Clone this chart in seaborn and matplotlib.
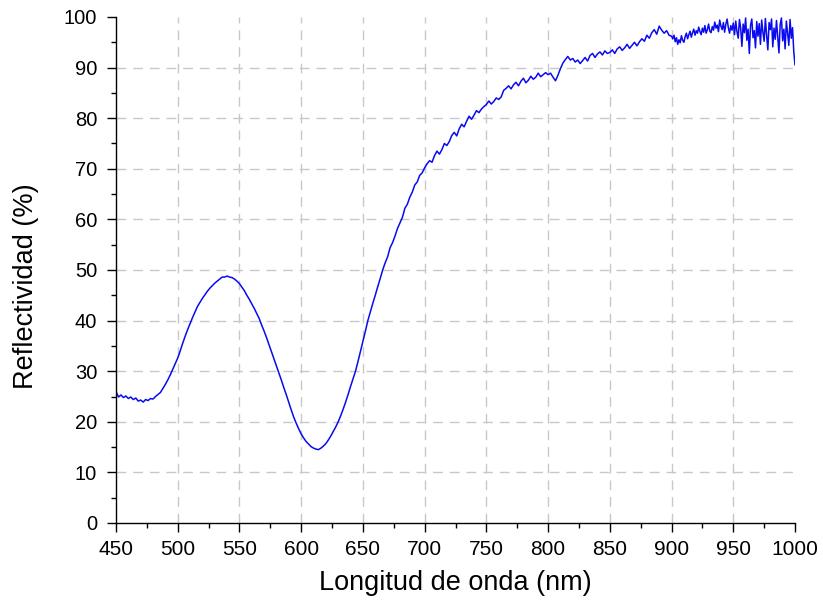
import numpy as np
import pandas as pd
import matplotlib
matplotlib.use("Agg")
import matplotlib.pyplot as plt
from matplotlib.ticker import MultipleLocator
import seaborn as sns

# Wavelength sampling (nm): 2 nm steps up to 898 nm, 1 nm steps in the noisy tail
wavelength = list(range(450, 900, 2)) + list(range(900, 1001, 1))

# Reflectivity (%), in 50 nm blocks
r_450 = [26.0, 24.9, 25.3, 24.8, 25.1, 24.6, 24.9, 24.4, 24.7, 24.1, 24.3, 23.9, 24.4,
         24.2, 24.6, 24.5, 25.0, 25.4, 25.8, 26.6, 27.4, 28.3, 29.3, 30.4, 31.5]
r_500 = [32.6, 34.0, 35.5, 36.9, 38.2, 39.4, 40.6, 41.7, 42.8, 43.6, 44.4, 45.1, 45.8,
         46.4, 46.9, 47.4, 47.8, 48.2, 48.6, 48.6, 48.8, 48.6, 48.5, 48.2, 47.8]
r_550 = [47.3, 46.6, 45.9, 45.0, 44.2, 43.3, 42.4, 41.4, 40.4, 39.1, 37.9, 36.6, 35.2,
         33.8, 32.4, 31.0, 29.6, 28.2, 26.7, 25.3, 23.8, 22.3, 20.9, 19.7, 18.6]
r_600 = [17.6, 16.8, 16.1, 15.6, 15.1, 14.8, 14.6, 14.5, 14.8, 15.2, 15.7, 16.4, 17.2,
         18.1, 19.0, 20.0, 21.2, 22.5, 23.9, 25.4, 27.0, 28.5, 30.0, 31.9, 33.9]
r_650 = [35.9, 37.9, 40.0, 41.7, 43.4, 45.0, 46.7, 48.3, 50.0, 51.4, 52.6, 54.4, 55.4,
         56.7, 58.2, 59.3, 60.4, 62.2, 63.0, 64.4, 65.4, 66.8, 67.4, 68.7, 69.2]
r_700 = [70.2, 71.0, 71.6, 71.3, 72.6, 73.5, 72.9, 73.8, 75.0, 74.6, 75.4, 76.6, 77.2,
         76.5, 77.9, 78.8, 78.3, 79.4, 80.4, 79.8, 80.6, 81.5, 81.1, 81.8, 82.3]
r_750 = [82.7, 83.4, 82.8, 83.3, 84.0, 83.7, 84.2, 85.5, 85.9, 86.4, 85.8, 86.6, 87.1,
         86.4, 87.3, 87.9, 87.0, 87.5, 88.3, 87.7, 88.1, 88.9, 88.2, 88.6, 89.0]
r_800 = [88.6, 88.9, 88.1, 87.4, 88.5, 89.8, 90.9, 91.6, 92.2, 91.5, 91.8, 91.1, 91.5,
         90.8, 91.4, 92.0, 91.3, 92.4, 92.8, 92.0, 92.7, 93.1, 92.5, 93.3, 92.8]
r_850 = [93.0, 93.5, 92.8, 93.7, 94.1, 93.4, 93.9, 94.6, 93.8, 94.4, 95.0, 94.3, 95.1,
         95.7, 95.2, 96.4, 95.8, 96.9, 97.5, 96.6, 98.2, 97.4, 96.8, 97.3, 96.4]
r_900 = [96.2, 95.7, 96.4, 95.1, 95.9, 94.6, 95.5, 94.9, 96.3, 95.4, 95.0, 96.1, 96.8,
         95.7, 96.5, 97.2, 96.0, 96.9, 97.6, 96.4, 97.3, 96.8, 98.0, 97.1, 96.5,
         97.8, 97.0, 98.3, 96.8, 97.5, 98.6, 97.2, 96.9, 98.1, 97.4, 99.0, 97.8, 98.4,
         97.1, 99.4, 98.2, 97.5, 98.9, 97.0, 98.6, 99.6, 97.9, 96.8, 98.3, 97.4]
r_950 = [98.8, 96.5, 99.2, 97.1, 95.8, 99.5, 97.8, 94.2, 98.6, 96.9, 99.8, 95.4, 97.6,
         92.8, 98.4, 99.6, 95.9, 97.3, 93.9, 99.1, 96.2, 98.7, 94.6, 99.4, 97.0,
         95.2, 99.7, 96.4, 93.5, 98.9, 97.5, 99.6, 94.1, 97.8, 95.6, 99.3, 96.0, 92.9,
         98.5, 99.8, 95.3, 97.6, 93.7, 99.2, 96.8, 94.4, 99.5, 95.8, 97.9, 93.2, 90.5]

reflectivity = (r_450 + r_500 + r_550 + r_600 + r_650 + r_700 + r_750 + r_800
                + r_850 + r_900 + r_950)

x_ticks = list(range(450, 1001, 50))
y_ticks = list(range(0, 101, 10))

df = pd.DataFrame({"wl": wavelength, "R": reflectivity})

sns.set_style("ticks")
plt.rcParams["font.family"] = ["Liberation Sans", "DejaVu Sans"]
plt.rcParams["text.color"] = "black"
plt.rcParams["axes.labelcolor"] = "black"

fig = plt.figure(figsize=(8.23, 6.02), dpi=100)
ax = fig.add_axes([116 / 823, 1 - 523 / 602, (795 - 116) / 823, (523 - 17) / 602])

sns.lineplot(data=df, x="wl", y="R", ax=ax, color="#0a0af0", linewidth=1.1)

ax.set_xlim(450, 1000)
ax.set_ylim(0, 100)
ax.set_xticks(x_ticks)
ax.set_yticks(y_ticks)
ax.xaxis.set_minor_locator(MultipleLocator(25))
ax.yaxis.set_minor_locator(MultipleLocator(5))

ax.grid(True, which="major", color="#c8c8c8", linestyle=(0, (7, 5)), linewidth=1.0)
for gl in ax.get_xgridlines()[:1] + ax.get_xgridlines()[-1:]:
    gl.set_visible(False)
for gl in ax.get_ygridlines()[:1] + ax.get_ygridlines()[-1:]:
    gl.set_visible(False)

for side in ["top", "right"]:
    ax.spines[side].set_visible(False)
for side in ["left", "bottom"]:
    ax.spines[side].set_color("black")
    ax.spines[side].set_linewidth(1.0)

ax.tick_params(axis="both", which="major", direction="out", length=6.5, width=1.0,
               colors="black")
ax.tick_params(axis="x", which="major", labelsize=15, pad=6)
ax.tick_params(axis="y", which="major", labelsize=14.5, pad=7)
ax.tick_params(axis="both", which="minor", direction="out", length=3.5, width=1.0, colors="black")

ax.set_xlabel("Longitud de onda (nm)", fontsize=19.5, color="black")
ax.set_ylabel("Reflectividad (%)", fontsize=19.5, color="black")
ax.xaxis.set_label_coords(0.5, -0.093)
ax.yaxis.set_label_coords(-0.113, 0.468)

fig.savefig("out.png", dpi=100)
